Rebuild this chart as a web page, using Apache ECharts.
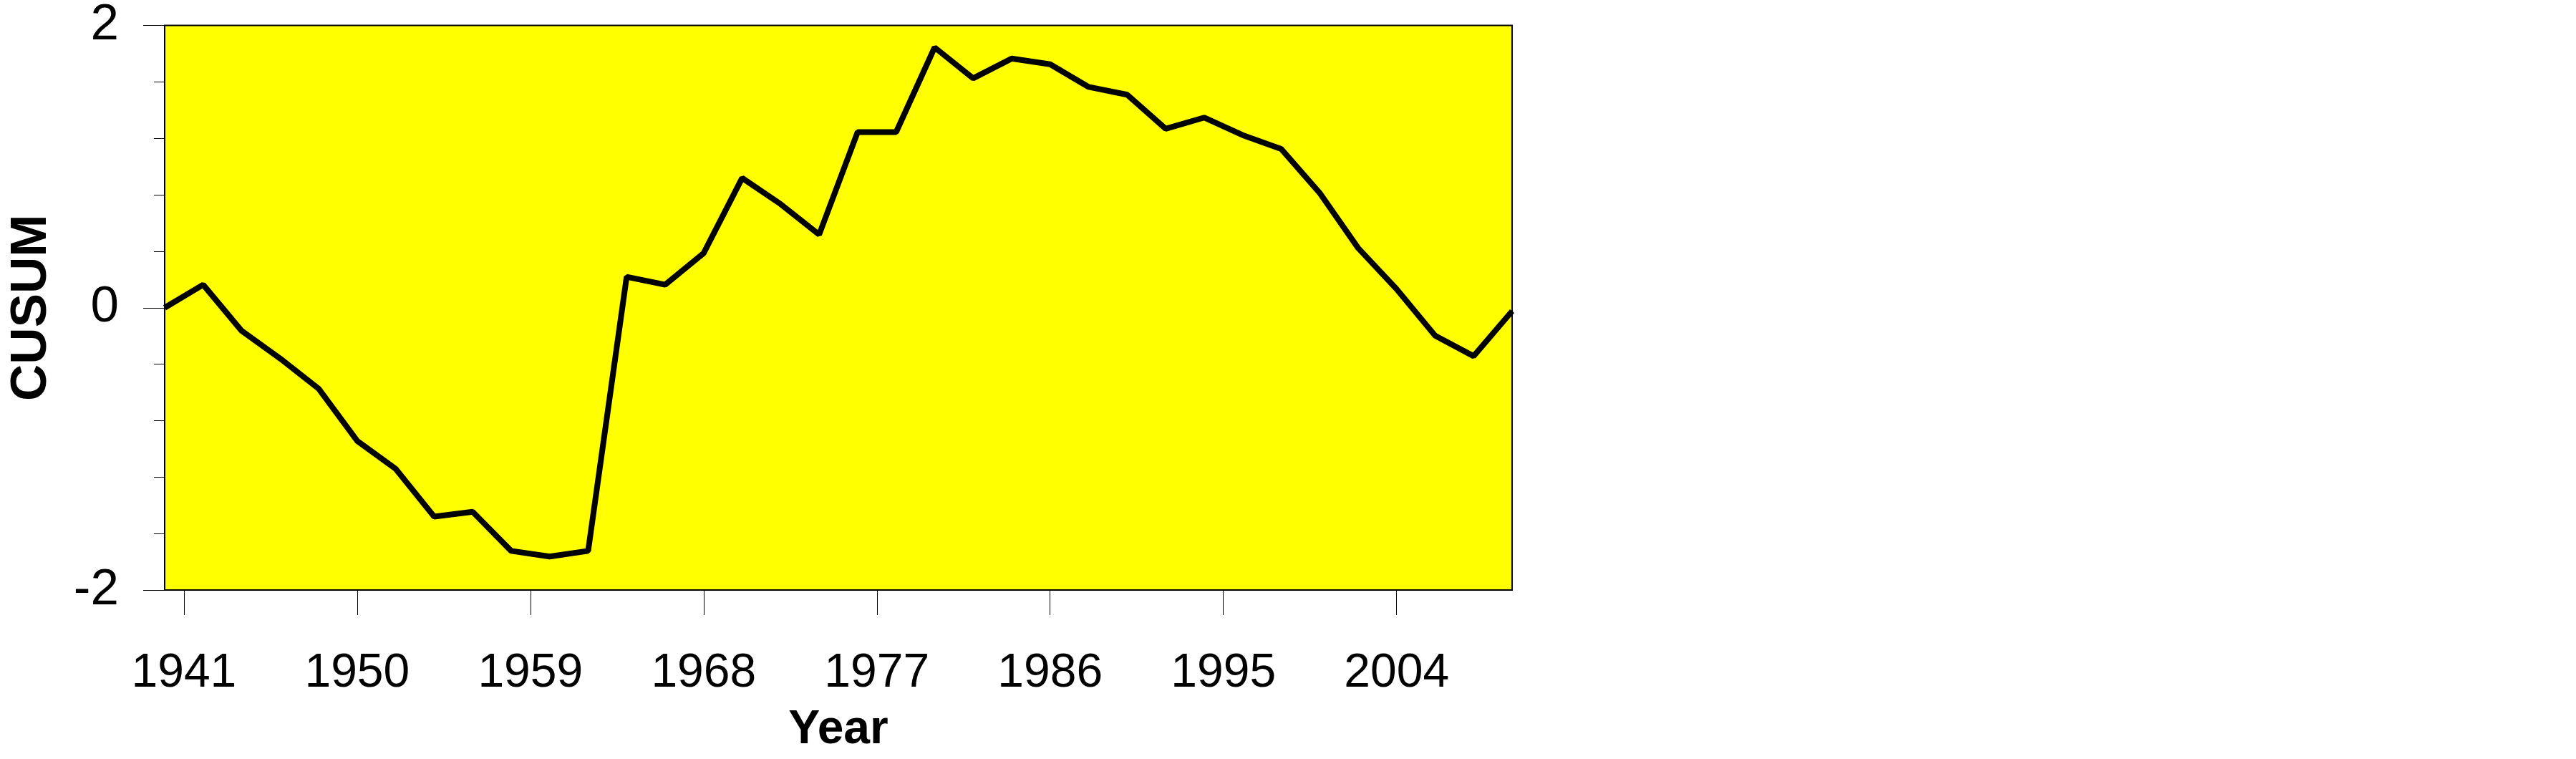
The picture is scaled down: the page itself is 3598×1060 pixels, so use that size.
<!DOCTYPE html>
<html>
<head>
<meta charset="utf-8">
<script src="https://cdn.jsdelivr.net/npm/echarts@6/dist/echarts.min.js"></script>
<style>
html,body{margin:0;padding:0;background:#fff;}
#chart{width:3598px;height:1060px;}
</style>
</head>
<body>
<div id="chart"></div>
<script>
// Data
const years = [1940,1942,1944,1946,1948,1950,1952,1954,1956,1958,1960,1962,1964,1966,1968,1970,1972,1974,1976,1978,1980,1982,1984,1986,1988,1990,1992,1994,1996,1998,2000,2002,2004,2006,2008,2010];
const cusum = [0,0.163,-0.164,-0.36,-0.574,-0.943,-1.141,-1.48,-1.446,-1.723,-1.763,-1.723,0.219,0.163,0.386,0.919,0.734,0.518,1.244,1.244,1.844,1.625,1.765,1.725,1.564,1.509,1.268,1.347,1.223,1.125,0.814,0.423,0.132,-0.198,-0.343,-0.024];
const xTickYears = [1941,1950,1959,1968,1977,1986,1995,2004];
const yTicks = [-2,0,2];

const chart = echarts.init(document.getElementById('chart'), null, {renderer:'canvas'});
const seriesData = years.map((y,i)=>[y,cusum[i]]);

chart.setOption({
  animation:false,
  backgroundColor:'#ffffff',
  grid:{left:230,right:1486,top:31,bottom:236,show:true,backgroundColor:'#ffff00',borderColor:'#000',borderWidth:2},
  xAxis:{
    type:'value',min:1940,max:2010,
    axisLine:{show:true,onZero:false,lineStyle:{color:'#000',width:1}},
    axisTick:{show:true,length:35,customValues:xTickYears,lineStyle:{color:'#000',width:1}},
    axisLabel:{customValues:xTickYears,formatter:v=>String(v),fontSize:66,fontFamily:'"Liberation Sans",Arial,sans-serif',color:'#000',margin:84},
    splitLine:{show:false},
    name:'Year',nameLocation:'middle',nameGap:163,
    nameTextStyle:{fontSize:66,fontWeight:'bold',fontFamily:'"Liberation Sans",Arial,sans-serif',color:'#000'}
  },
  yAxis:{
    type:'value',min:yTicks[0],max:yTicks[yTicks.length-1],interval:2,
    axisLine:{show:true,onZero:false,lineStyle:{color:'#000',width:1}},
    axisTick:{show:true,length:30,lineStyle:{color:'#000',width:1}},
    minorTick:{show:true,splitNumber:5,length:15,lineStyle:{color:'#000',width:1}},
    axisLabel:{fontSize:71,fontFamily:'"Liberation Sans",Arial,sans-serif',color:'#000',margin:64,formatter:v=>String(v)},
    splitLine:{show:false},minorSplitLine:{show:false},
    name:'CUSUM',nameLocation:'middle',nameRotate:90,nameGap:150,
    nameTextStyle:{fontSize:71,fontWeight:'bold',fontFamily:'"Liberation Sans",Arial,sans-serif',color:'#000'}
  },
  series:[{
    type:'line',data:seriesData,showSymbol:false,symbol:'none',
    lineStyle:{color:'#000',width:8},
    z:5
  }]
});
</script>
</body>
</html>
